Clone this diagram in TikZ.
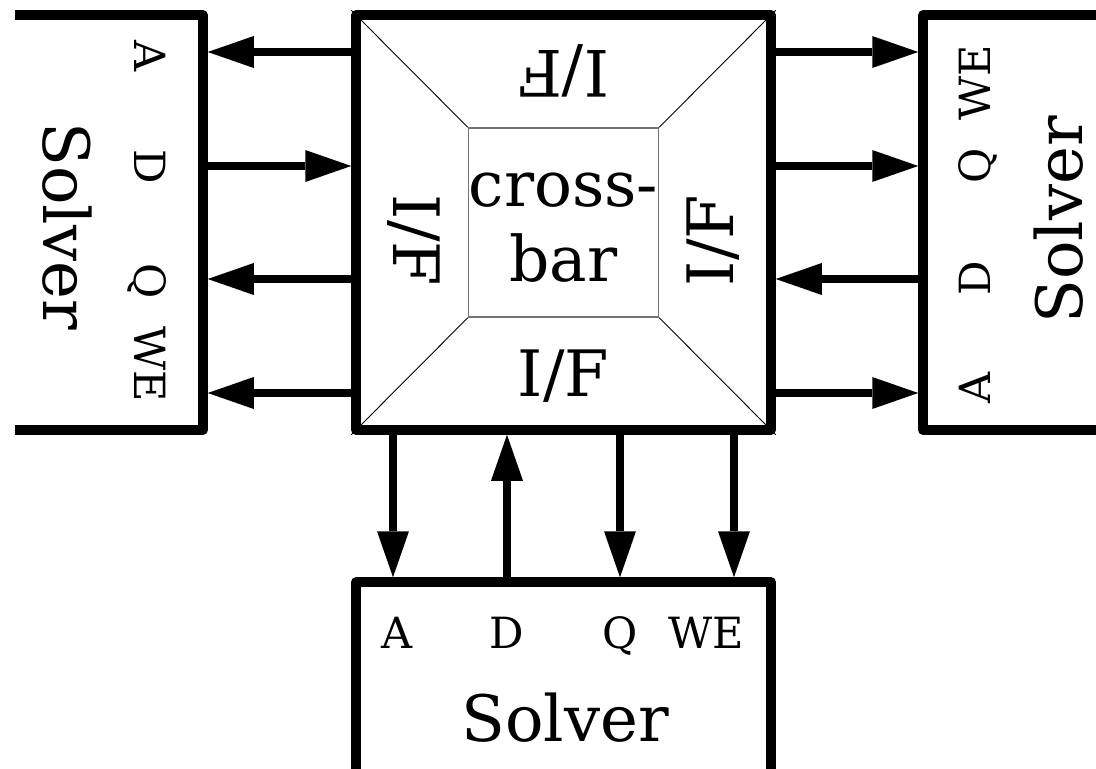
\documentclass[tikz,border=0pt]{standalone}
\usepackage{fontspec}
\setmainfont{DejaVu Serif}
\usetikzlibrary{arrows.meta}
\tikzset{
  boxline/.style={line width=9.5pt, line join=round},
  area/.style={inner sep=0pt, outer sep=0pt, draw=none},
  arr/.style={line width=7.6pt, -{Triangle[length=46pt,width=32pt,line width=0pt]}},
  tosolver/.style={arr, shorten >=4.75pt},
  big/.style={font=\fontsize{64}{75}\selectfont, inner sep=0pt, text height=48.6pt, text depth=0pt},
  iface/.style={font=\fontsize{64}{75}\selectfont, inner sep=0pt, text height=46.7pt, text depth=0pt},
  port/.style={font=\fontsize{43}{50}\selectfont, inner sep=0pt, text height=31.4pt, text depth=0pt},
}
\begin{document}
\begin{tikzpicture}[x=1pt,y=-1pt]
\useasboundingbox (0,0) rectangle (1096,769);

% crossbar block with its four interface trapezoids
\node[draw, boxline, minimum width=415pt, minimum height=415pt, inner sep=0pt] (cb) at (563.5,222.5) {};
\node[draw=black!55, line width=1.3pt, minimum width=190pt, minimum height=189pt, inner sep=0pt] (xb) at (563.5,222.5) {};
\node[align=center, inner sep=0pt, font=\fontsize{63}{75}\selectfont] (xbt) at (563.5,228) {cross-\\bar};
\draw[line width=0.9pt] (cb.north west) -- (xb.north west);
\draw[line width=0.9pt] (cb.north east) -- (xb.north east);
\draw[line width=0.9pt] (cb.south west) -- (xb.south west);
\draw[line width=0.9pt] (cb.south east) -- (xb.south east);
\node[iface, rotate=180] (ifT) at (563.5,73.5) {I/F};
\node[iface, rotate=-90] (ifL) at (417,240.5) {I/F};
\node[iface, rotate=90]  (ifR) at (710,240.5) {I/F};
\node[iface] (ifB) at (563.5,373.5) {I/F};

% solver blocks (open towards the page edges)
\node[area, minimum width=188pt, minimum height=415pt] (ls) at (109,222.5) {};
\node[area, minimum width=173pt, minimum height=415pt] (rs) at (1009.5,222.5) {};
\node[area, minimum width=415pt, minimum height=187pt] (bs) at (563.5,675.5) {};
\draw[boxline] (ls.north west) -- (ls.north east) -- (ls.south east) -- (ls.south west);
\draw[boxline] (rs.north east) -- (rs.north west) -- (rs.south west) -- (rs.south east);
\draw[boxline] (bs.south west) -- (bs.north west) -- (bs.north east) -- (bs.south east);

\node[big, rotate=-90] (lsn) at (68,226) {Solver};
\node[big, rotate=90]  (rsn) at (1058,220) {Solver};
\node[big] (bsn) at (565,717.5) {Solver};

% port names
\node[port, rotate=-90] (lA) at (150,56) {A};
\node[port, rotate=-90] (lD) at (150,167) {D};
\node[port, rotate=-90] (lQ) at (150,281) {Q};
\node[port, rotate=-90] (lW) at (150,364) {WE};
\node[port, rotate=90] (rW) at (975,83) {WE};
\node[port, rotate=90] (rQ) at (975,166) {Q};
\node[port, rotate=90] (rD) at (975,278) {D};
\node[port, rotate=90] (rA) at (975,388) {A};
\node[port] (bA) at (397,633) {A};
\node[port] (bD) at (507,633) {D};
\node[port] (bQ) at (620,633) {Q};
\node[port] (bW) at (706,633) {WE};

% left links
\draw[tosolver] (cb.west |- 0,52) -- (ls.east |- 0,52);
\draw[arr] (ls.east |- 0,166) -- (cb.west |- 0,166);
\draw[tosolver] (cb.west |- 0,279) -- (ls.east |- 0,279);
\draw[tosolver] (cb.west |- 0,393) -- (ls.east |- 0,393);
% right links
\draw[tosolver] (cb.east |- 0,52) -- (rs.west |- 0,52);
\draw[tosolver] (cb.east |- 0,166) -- (rs.west |- 0,166);
\draw[arr] (rs.west |- 0,279) -- (cb.east |- 0,279);
\draw[tosolver] (cb.east |- 0,393) -- (rs.west |- 0,393);
% bottom links
\draw[tosolver] (cb.south -| 393,0) -- (bs.north -| 393,0);
\draw[arr] (bs.north -| 507,0) -- (cb.south -| 507,0);
\draw[tosolver] (cb.south -| 620,0) -- (bs.north -| 620,0);
\draw[tosolver] (cb.south -| 734,0) -- (bs.north -| 734,0);
\end{tikzpicture}
\end{document}
